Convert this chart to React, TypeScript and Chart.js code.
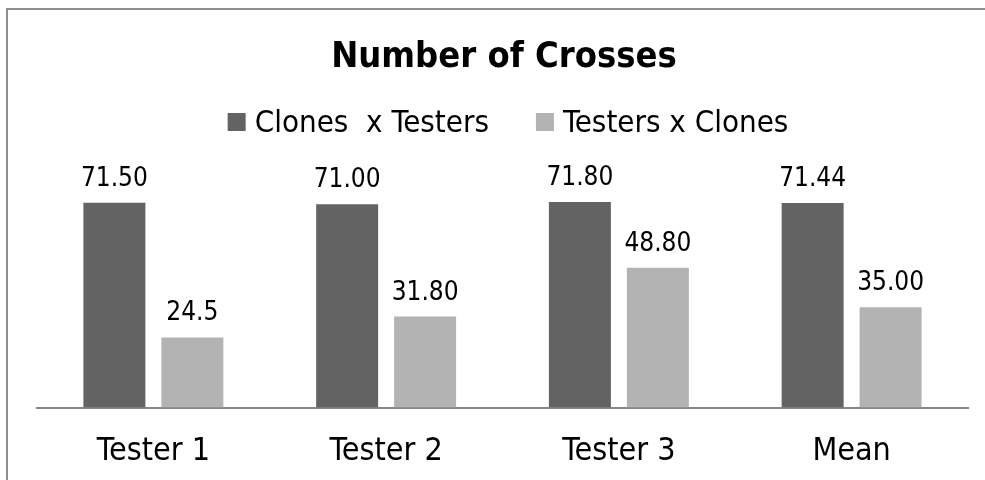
import React, { useEffect, useRef } from "react";
import { Chart, registerables } from "chart.js";

Chart.register(...registerables);

const categories = ["Tester 1", "Tester 2", "Tester 3", "Mean"];
const clonesXTesters = [71.5, 71.0, 71.8, 71.44];
const testersXClones = [24.5, 31.8, 48.8, 35.0];
const clonesLabels = ["71.50", "71.00", "71.80", "71.44"];
const testersLabels = ["24.5", "31.80", "48.80", "35.00"];
const seriesNames = ["Clones  x Testers", "Testers x Clones"];
const titleText = "Number of Crosses";

const FONT = '"DejaVu Sans Condensed", "DejaVu Sans", sans-serif';

const frame = {
  id: "frame",
  beforeDraw(chart: any) {
    const ctx = chart.ctx;
    ctx.save();
    ctx.fillStyle = "#ffffff";
    ctx.fillRect(0, 0, chart.width, chart.height);
    ctx.fillStyle = "#8f8f8f";
    ctx.fillRect(6, 8, 2, chart.height - 8);
    ctx.fillRect(6, 8, chart.width - 6, 2);
    ctx.restore();
  },
};

const headerPlugin = {
  id: "header",
  afterDraw(chart: any) {
    const ctx = chart.ctx;
    ctx.save();
    ctx.fillStyle = "#000000";
    ctx.textAlign = "center";
    ctx.textBaseline = "alphabetic";
    ctx.font = `bold 36px ${FONT}`;
    ctx.fillText(titleText, 504, 67);

    // legend
    ctx.font = `31px ${FONT}`;
    const box = 18;
    const gap = 9;
    const itemGap = 47;
    const ds = chart.data.datasets;
    const widths = ds.map((d: any) => box + gap + ctx.measureText(d.label).width);
    const total = widths.reduce((a: number, b: number) => a + b, 0) + itemGap * (ds.length - 1);
    let x = 508 - total / 2;
    ctx.textAlign = "left";
    ds.forEach((d: any, i: number) => {
      ctx.fillStyle = d.backgroundColor;
      ctx.fillRect(x, 113, box, box);
      ctx.fillStyle = "#000000";
      ctx.fillText(d.label, x + box + gap, 132);
      x += widths[i] + itemGap;
    });
    ctx.restore();
  },
};

const dataLabels = {
  id: "dataLabels",
  afterDatasetsDraw(chart: any) {
    const ctx = chart.ctx;
    const texts = [clonesLabels, testersLabels];
    ctx.save();
    ctx.fillStyle = "#000000";
    ctx.font = `26px ${FONT}`;
    ctx.textAlign = "center";
    ctx.textBaseline = "alphabetic";
    chart.data.datasets.forEach((_d: any, di: number) => {
      const meta = chart.getDatasetMeta(di);
      meta.data.forEach((el: any, i: number) => {
        ctx.fillText(texts[di][i], el.x, el.y - 17);
      });
    });
    ctx.restore();
  },
};

export default function App() {
  const ref = useRef<HTMLCanvasElement | null>(null);
  useEffect(() => {
    if (!ref.current) return;
    const chart = new Chart(ref.current, {
      type: "bar",
      data: {
        labels: categories,
        datasets: [
          {
            label: seriesNames[0],
            data: clonesXTesters,
            backgroundColor: "#636363",
            categoryPercentage: 0.67,
            barPercentage: 0.795,
          },
          {
            label: seriesNames[1],
            data: testersXClones,
            backgroundColor: "#b3b3b3",
            categoryPercentage: 0.67,
            barPercentage: 0.795,
          },
        ],
      },
      options: {
        animation: false,
        responsive: false,
        maintainAspectRatio: false,
        layout: { padding: { top: 178.5, left: 37, right: 17, bottom: -16 } },
        plugins: {
          legend: { display: false },
          title: { display: false },
          tooltip: { enabled: false },
        },
        scales: {
          x: {
            grid: { display: false, drawTicks: false },
            border: { display: true, color: "#868686", width: 2 },
            ticks: {
              color: "#000000",
              padding: 25,
              font: { family: FONT, size: 32 },
            },
          },
          y: {
            display: false,
            min: 0,
            max: 80,
          },
        },
      },
      plugins: [frame, headerPlugin, dataLabels],
    });
    return () => chart.destroy();
  }, []);
  return (
    <div style={{ position: "absolute", left: 0, top: 0, width: 985, height: 480 }}>
      <canvas ref={ref} width={985} height={480} style={{ display: "block" }} />
    </div>
  );
}
